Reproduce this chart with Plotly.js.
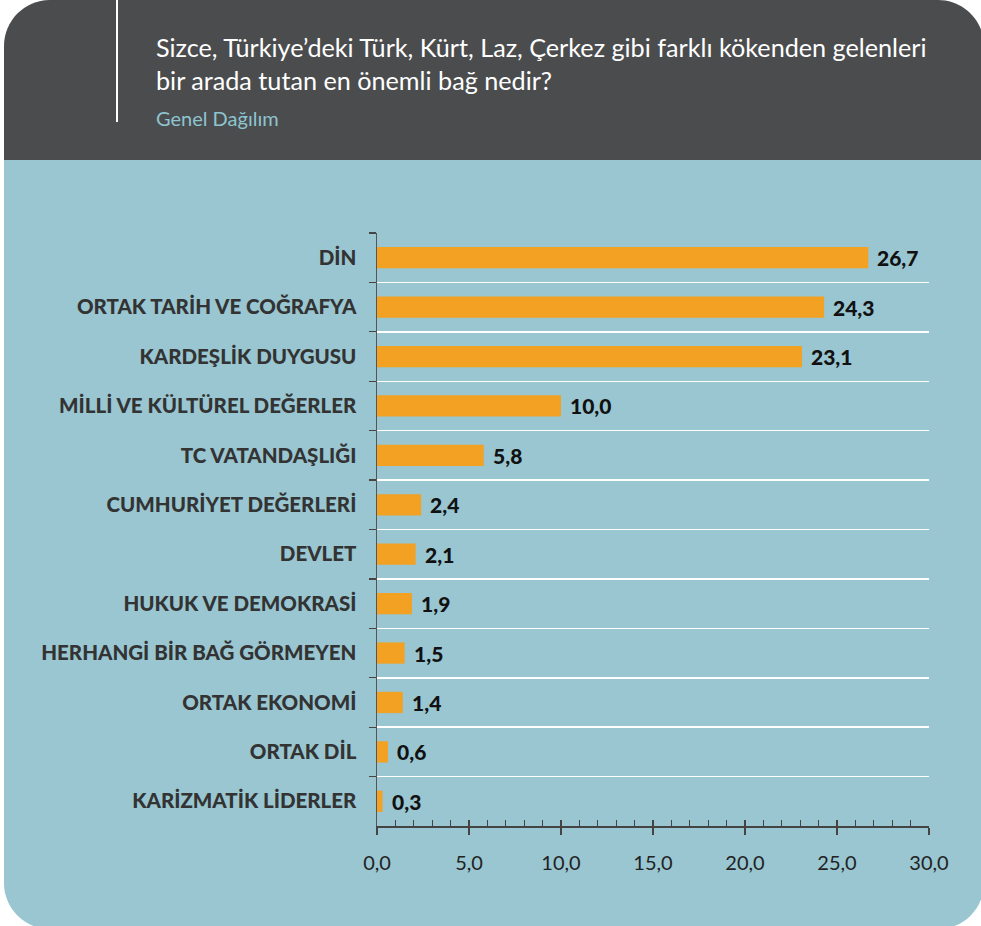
<!DOCTYPE html>
<html>
<head>
<meta charset="utf-8">
<script src="https://cdn.plot.ly/plotly-3.0.1.min.js"></script>
<style>html,body{margin:0;padding:0;background:#fff;}#chart{width:981px;height:926px;}</style>
</head>
<body>
<div id="chart"></div>
<script>
var categories = ["DİN","ORTAK TARİH VE COĞRAFYA","KARDEŞLİK DUYGUSU","MİLLİ VE KÜLTÜREL DEĞERLER","TC VATANDAŞLIĞI","CUMHURİYET DEĞERLERİ","DEVLET","HUKUK VE DEMOKRASİ","HERHANGİ BİR BAĞ GÖRMEYEN","ORTAK EKONOMİ","ORTAK DİL","KARİZMATİK LİDERLER"];
var values = [26.7,24.3,23.1,10.0,5.8,2.4,2.1,1.9,1.5,1.4,0.6,0.3];
var tickValues = [0,5,10,15,20,25,30];
var titleLine1 = "Sizce, Türkiye’deki Türk, Kürt, Laz, Çerkez gibi farklı kökenden gelenleri";
var titleLine2 = "bir arada tutan en önemli bağ nedir?";
var subtitle = "Genel Dağılım";

var W = 981, H = 926;
var ML = 377, MR = 52, MT = 233, MB = 100;
var PW = W - ML - MR, PH = H - MT - MB;
function px(x){ return (x - ML) / PW; }
function py(y){ return 1 - (y - MT) / PH; }
function P(x,y){ return px(x).toFixed(5) + "," + py(y).toFixed(5); }

var L = 4, R = 984, T = 0, B = 929, HB = 160, r = 46, k = 0.5523 * r;
var headerPath = "M" + P(L, HB) + " L" + P(L, T + r) +
  " C" + P(L, T + r - k) + " " + P(L + r - k, T) + " " + P(L + r, T) +
  " L" + P(R - r, T) +
  " C" + P(R - r + k, T) + " " + P(R, T + r - k) + " " + P(R, T + r) +
  " L" + P(R, HB) + " Z";
var bodyPath = "M" + P(L, HB) + " L" + P(R, HB) + " L" + P(R, B - r) +
  " C" + P(R, B - r + k) + " " + P(R - r + k, B) + " " + P(R - r, B) +
  " L" + P(L + r, B) +
  " C" + P(L + r - k, B) + " " + P(L, B - r + k) + " " + P(L, B - r) + " Z";

var FONT = "Lato, 'Open Sans', sans-serif";

var trace = {
  type: "bar",
  orientation: "h",
  x: values,
  y: categories,
  width: 0.43,
  marker: {color: "#f2a122", line: {width: 0}},
  hoverinfo: "skip",
  xaxis: "x", yaxis: "y"
};
// invisible trace to activate the overlay axis for minor ticks
var overlay = {type: "scatter", x: [0], y: [categories[0]], mode: "markers", marker: {opacity: 0}, xaxis: "x2", yaxis: "y", hoverinfo: "skip", showlegend: false};

var annotations = values.map(function(v, i){
  return {
    x: v, y: categories[i], xref: "x", yref: "y",
    text: v.toFixed(1).replace(".", ","),
    showarrow: false, xanchor: "left", yanchor: "middle", xshift: 7, yshift: 0,
    font: {family: FONT, size: 21, color: "#111", weight: 900}
  };
});
annotations.push({xref: "paper", yref: "paper", x: px(154), y: py(47), xanchor: "left", yanchor: "middle",
  text: titleLine1, showarrow: false, font: {family: FONT, size: 25.2, color: "#ffffff"}});
annotations.push({xref: "paper", yref: "paper", x: px(154), y: py(80), xanchor: "left", yanchor: "middle",
  text: titleLine2, showarrow: false, font: {family: FONT, size: 25.2, color: "#ffffff"}});
annotations.push({xref: "paper", yref: "paper", x: px(154), y: py(118), xanchor: "left", yanchor: "middle",
  text: subtitle, showarrow: false, font: {family: FONT, size: 20, color: "#8ec4d0"}});

var layout = {
  width: W, height: H,
  margin: {l: ML, r: MR, t: MT, b: MB, pad: 0},
  paper_bgcolor: "#ffffff",
  plot_bgcolor: "rgba(0,0,0,0)",
  separators: ",.",
  showlegend: false,
  font: {family: FONT},
  xaxis: {
    range: [0, 30], fixedrange: true,
    tickvals: tickValues, tickformat: ".1f",
    ticks: "outside", ticklen: 7, tickwidth: 1.3, tickcolor: "#444",
    showline: true, linecolor: "#444", linewidth: 1.5,
    showgrid: false, zeroline: false,
    tickfont: {family: FONT, size: 20, color: "#222"},
    ticklabelstandoff: 11
  },
  xaxis2: {
    range: [0, 30], overlaying: "x", anchor: "y", side: "bottom",
    dtick: 1, tick0: 0, ticks: "inside", ticklen: 6, tickwidth: 1.2, tickcolor: "#444",
    showticklabels: false, showgrid: false, zeroline: false, showline: false
  },
  yaxis: {
    type: "category", autorange: false, range: [11.5, -0.5],
    tickson: "boundaries", ticks: "outside", ticklen: 7, tickwidth: 1.3, tickcolor: "#444",
    showline: true, linecolor: "#555", linewidth: 1.5,
    showgrid: true, gridcolor: "#ffffff", gridwidth: 1.5,
    zeroline: false,
    tickfont: {family: FONT, size: 20.5, color: "#333", weight: 900},
    ticklabelstandoff: 15
  },
  shapes: [
    {type: "path", xref: "paper", yref: "paper", path: headerPath, fillcolor: "#4b4c4e", line: {width: 0}, layer: "below"},
    {type: "path", xref: "paper", yref: "paper", path: bodyPath, fillcolor: "#99c6d1", line: {width: 0}, layer: "below"},
    {type: "line", xref: "paper", yref: "paper", x0: px(117), x1: px(117), y0: py(0), y1: py(122), line: {color: "#ffffff", width: 2}, layer: "above"}
  ],
  annotations: annotations
};

Plotly.newPlot("chart", [trace, overlay], layout, {displayModeBar: false, staticPlot: true});
</script>
</body>
</html>
